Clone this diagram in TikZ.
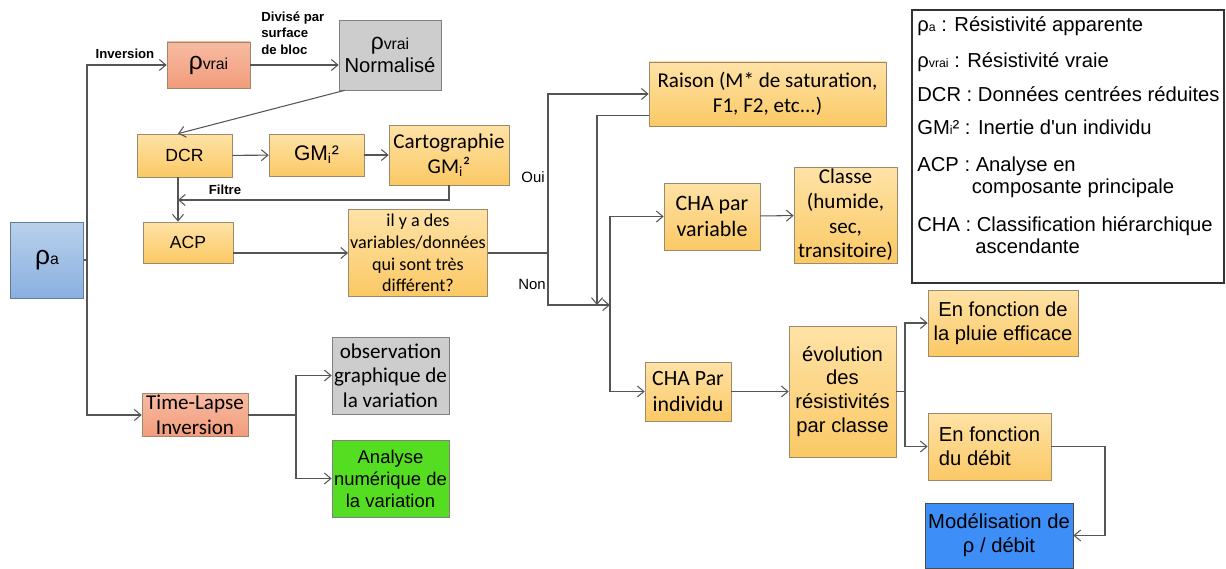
\documentclass[tikz,border=0pt]{standalone}
\usepackage{fontspec}
\setmainfont{Carlito}
\newfontfamily\arial{Liberation Sans}
\usetikzlibrary{arrows.meta, positioning, calc}

\definecolor{orTop}{HTML}{FEE2A6}
\definecolor{orBot}{HTML}{FBC965}
\definecolor{orLine}{HTML}{9C8A6A}
\definecolor{salTop}{HTML}{F7BBA2}
\definecolor{salBot}{HTML}{F29C7C}
\definecolor{blTop}{HTML}{B9D0EC}
\definecolor{blBot}{HTML}{8AB0DF}
\definecolor{grFill}{HTML}{CDCDCD}
\definecolor{vert}{HTML}{55DD22}
\definecolor{bleu}{HTML}{3E8EF7}
\definecolor{trait}{HTML}{555555}

\begin{document}
\begin{tikzpicture}[
    x=0.2mm, y=-0.2mm,
    every node/.style={font=\fontsize{12}{14}\selectfont},
    base/.style={
        draw,
        align=center,
        inner sep=1pt
    },
    orange/.style={base, draw=orLine, top color=orTop, bottom color=orBot},
    salmon/.style={base, draw=orLine, top color=salTop, bottom color=salBot},
    grey/.style={base, draw=gray, fill=grFill},
    arialbox/.style={font=\arial\fontsize{11.5}{13.5}\selectfont},
    lbl/.style={font=\arial\bfseries\fontsize{7.5}{9.4}\selectfont, inner sep=0pt},
    line/.style={draw=trait, line width=0.6pt},
    arrow/.style={-{Straight Barb[length=1.3mm, width=2.2mm]}, draw=trait, line width=0.6pt}
]
\useasboundingbox (0,0) rectangle (1226,568);

% left column
\node[base, draw=blBot!70!black, top color=blTop, bottom color=blBot,
      minimum width=14.6mm, minimum height=15.2mm] (rhoa) at (47,260)
      {\arial\fontsize{15}{17}\selectfont ρ{\fontsize{9}{9}\selectfont a}};

\node[salmon, minimum width=16.6mm, minimum height=9.2mm] (rhovrai) at (208.5,65)
      {\arial\fontsize{14}{16}\selectfont ρ{\fontsize{9}{9}\selectfont vrai}};
\node[grey, arialbox, minimum width=20.4mm, minimum height=14mm] (norm) at (390,55)
      {{\fontsize{13}{15}\selectfont ρ}{\fontsize{9}{9}\selectfont vrai}\\Normalisé};

\node[orange, font=\arial\fontsize{10}{12}\selectfont, minimum width=19mm, minimum height=8.6mm] (dcr) at (184.5,155.5) {DCR};
\node[orange, font=\arial\fontsize{12}{14}\selectfont, minimum width=19mm, minimum height=8.4mm] (gmi) at (316.5,155) {GM\textsubscript{i}²};
\node[orange, minimum width=24mm, minimum height=12mm] (carto) at (449,155) {Cartographie\\GM\textsubscript{i}²};
\node[orange, font=\arial\fontsize{10}{12}\selectfont, minimum width=18mm, minimum height=8.2mm] (acp) at (188,242.5) {ACP};
\node[orange, font=\fontsize{10.3}{12.4}\selectfont, minimum width=27.6mm, minimum height=17.4mm] (quest) at (418,253)
      {il y a des\\variables/données\\qui sont très\\différent?};

\node[salmon, minimum width=21.2mm, minimum height=8.4mm] (tl) at (195,415) {Time-Lapse\\Inversion};
\node[grey, minimum width=23.4mm, minimum height=15.4mm] (obs) at (390.5,375.5) {observation\\graphique de\\la variation};
\node[base, draw=gray, fill=vert, font=\arial\fontsize{10.5}{12.5}\selectfont,
      minimum width=23.4mm, minimum height=15.4mm] (ana) at (390.5,478.5) {Analyse\\numérique de\\la variation};

% right part
\node[orange, minimum width=47.4mm, minimum height=12.8mm] (raison) at (767.5,94) {Raison (M* de saturation,\\F1, F2, etc...)};
\node[orange, font=\fontsize{12.5}{15}\selectfont, minimum width=19.2mm, minimum height=13.4mm] (chavar) at (712,216.5) {CHA par\\variable};
\node[orange, minimum width=20.6mm, minimum height=19.2mm] (classe) at (845.5,215) {Classe\\(humide,\\sec,\\transitoire)};
\node[orange, font=\fontsize{12.4}{15}\selectfont, minimum width=17.2mm, minimum height=11.8mm] (chaind) at (688,391.5) {CHA Par\\individu};
\node[orange, arialbox, minimum width=21.4mm, minimum height=26.2mm] (evol) at (842.5,391.5) {évolution\\des\\résistivités\\par classe};
\node[orange, arialbox, minimum width=30mm, minimum height=13.2mm] (pluie) at (1003,323) {En fonction de\\la pluie efficace};
\node[orange, arialbox, align=left, minimum width=24.6mm, minimum height=13.4mm] (debit) at (989.5,446.5) {En fonction\\du débit};
\node[base, draw=black!70, fill=bleu, arialbox, minimum width=29.6mm, minimum height=13mm] (model) at (999,535.5) {Modélisation de\\ρ / débit};

% legend
\node[draw=black!80, line width=0.6pt, minimum width=62.4mm, minimum height=54.6mm] (legend) at (1068,146.5) {};
\node[anchor=north west, inner sep=0pt, align=left, font=\arial\fontsize{11.5}{12.5}\selectfont] (legtext) at (917,16)
      {ρ{\fontsize{7}{7}\selectfont a} : Résistivité apparente\\[8pt]
       ρ{\fontsize{7}{7}\selectfont vrai} : Résistivité vraie\\[7pt]
       DCR : Données centrées réduites\\[6pt]
       GM{\fontsize{7}{7}\selectfont i}² : Inertie d'un individu\\[9pt]
       ACP : Analyse en\\\hspace*{31pt}composante principale\\[9pt]
       CHA : Classification hiérarchique\\\hspace*{33pt}ascendante};

% labels
\node[lbl] (linv) at (125,54) {Inversion};
\node[lbl, anchor=north west, align=left] (ldiv) at (261,11) {Divisé par\\surface\\de bloc};
\node[lbl] (lfil) at (225,190) {Filtre};
\node[font=\arial\fontsize{8.5}{10}\selectfont, inner sep=0pt] (loui) at (533,177) {Oui};
\node[font=\arial\fontsize{8.5}{10}\selectfont, inner sep=0pt] (lnon) at (532,284) {Non};

% junctions
\coordinate (spl) at (87,260);
\coordinate (fil) at (178,200);
\coordinate (qs) at (548,253);
\coordinate (non) at (610,305);
\coordinate (ret) at (597,305);
\coordinate (evs) at (905,391.5);
\coordinate (tls) at (296,415);
\coordinate (dbc) at (1105,0);

\draw[line] (rhoa.east) -- (spl);
\draw[arrow] (spl) |- (rhovrai.west);
\draw[arrow] (spl) |- (tl.west);
\draw[arrow] (rhovrai.east) -- (rhovrai.east -| norm.west);
\draw[arrow] ([xshift=1.2mm]norm.south west) -- (dcr.north -| fil);
\draw[arrow] (dcr) -- (gmi);
\draw[arrow] (gmi) -- (carto);
\draw[arrow] (carto.south) |- (fil);
\draw[arrow] (dcr.south -| fil) -- (acp.north -| fil);
\draw[arrow] (acp.east |- quest.west) -- (quest.west);

\draw[line] (quest.east) -- (qs);
\draw[arrow] (qs) |- (raison.west);
\draw[arrow] (qs) |- (non);
\draw[arrow] ([yshift=2.2mm]raison.south west) -| (ret);
\draw[arrow] (non) |- (chavar.west);
\draw[arrow] (non) |- (chaind.west);
\draw[arrow] (chavar) -- (classe);
\draw[arrow] (chaind.east) -- (evol.west |- chaind.east);
\draw[line] (evol.east) -- (evs);
\draw[arrow] (evs) |- (pluie.west);
\draw[arrow] (evs) |- (debit.west);
\draw[arrow] (debit.east) -- (debit.east -| dbc) |- (model.east);

\draw[line] (tl.east) -- (tls);
\draw[arrow] (tls) |- (obs.west);
\draw[arrow] (tls) |- (ana.west);

\end{tikzpicture}
\end{document}
